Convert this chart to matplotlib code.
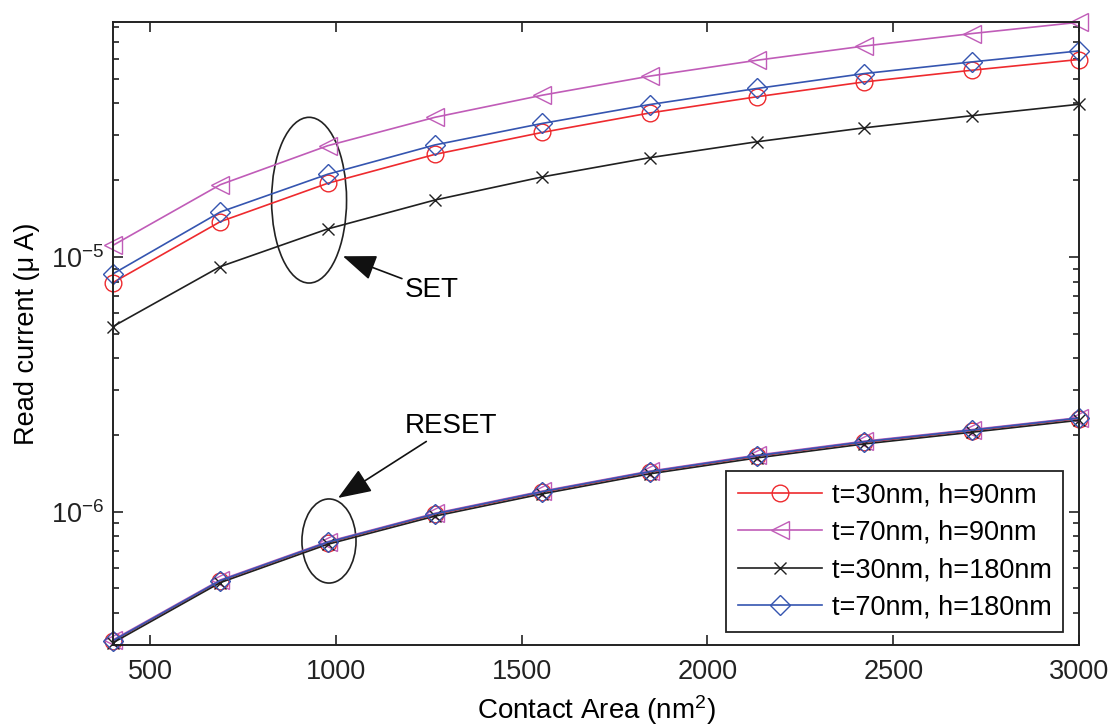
import matplotlib
matplotlib.use("Agg")
import matplotlib.pyplot as plt
from matplotlib.patches import Ellipse
from matplotlib.ticker import LogLocator, NullFormatter
import numpy as np

plt.rcParams['font.family'] = ['Liberation Sans', 'DejaVu Sans']
plt.rcParams['mathtext.fontset'] = 'custom'
plt.rcParams['mathtext.rm'] = 'Liberation Sans'
plt.rcParams['mathtext.it'] = 'Liberation Sans:italic'
plt.rcParams['mathtext.bf'] = 'Liberation Sans:bold'

# Contact area (nm^2)
area = np.linspace(400, 3000, 10)

# Read current, SET state
set_t30_h90 = [7.93e-6, 1.375e-5, 1.944e-5, 2.525e-5, 3.08e-5, 3.67e-5, 4.25e-5, 4.86e-5, 5.40e-5, 5.95e-5]
set_t70_h90 = [1.11e-5, 1.92e-5, 2.73e-5, 3.53e-5, 4.31e-5, 5.12e-5, 5.91e-5, 6.72e-5, 7.52e-5, 8.33e-5]
set_t30_h180 = [5.33e-6, 9.16e-6, 1.287e-5, 1.672e-5, 2.06e-5, 2.45e-5, 2.83e-5, 3.21e-5, 3.58e-5, 3.97e-5]
set_t70_h180 = [8.58e-6, 1.50e-5, 2.11e-5, 2.75e-5, 3.34e-5, 3.96e-5, 4.58e-5, 5.24e-5, 5.82e-5, 6.43e-5]

# Read current, RESET state
reset_t30_h90 = [3.11e-7, 5.35e-7, 7.56e-7, 9.76e-7, 1.193e-6, 1.429e-6, 1.651e-6, 1.873e-6, 2.08e-6, 2.32e-6]
reset_t70_h90 = [3.14e-7, 5.40e-7, 7.63e-7, 9.86e-7, 1.205e-6, 1.443e-6, 1.668e-6, 1.892e-6, 2.10e-6, 2.34e-6]
reset_t30_h180 = [3.06e-7, 5.27e-7, 7.45e-7, 9.61e-7, 1.175e-6, 1.408e-6, 1.626e-6, 1.845e-6, 2.05e-6, 2.285e-6]
reset_t70_h180 = [3.12e-7, 5.37e-7, 7.59e-7, 9.81e-7, 1.199e-6, 1.436e-6, 1.659e-6, 1.882e-6, 2.09e-6, 2.33e-6]

labels = ["t=30nm, h=90nm", "t=70nm, h=90nm", "t=30nm, h=180nm", "t=70nm, h=180nm"]

red = '#ee2a2e'
mag = '#c05cb8'
blk = '#202020'
blu = '#3555b0'

fig = plt.figure(figsize=(11.12, 7.26), dpi=100)
ax = fig.add_axes([0.1016, 0.1116, 0.8687, 0.8581])

styles = [
    dict(color=red, marker='o', ms=12),
    dict(color=mag, marker='<', ms=13),
    dict(color=blk, marker='x', ms=9),
    dict(color=blu, marker='D', ms=10),
]
set_curves = [set_t30_h90, set_t70_h90, set_t30_h180, set_t70_h180]
reset_curves = [reset_t30_h90, reset_t70_h90, reset_t30_h180, reset_t70_h180]

for st, lab, ys, yr in zip(styles, labels, set_curves, reset_curves):
    kw = dict(color=st['color'], marker=st['marker'], markersize=st['ms'],
              markerfacecolor='none', markeredgewidth=1.0, linewidth=1.2,
              clip_on=False)
    ax.plot(area, ys, label=lab, **kw)
    ax.plot(area, yr, **kw)

ax.set_yscale('log')
ax.set_xlim(400, 3000)
ax.set_ylim(3.0e-7, 8.35e-5)
ax.set_xticks([500, 1000, 1500, 2000, 2500, 3000])
ax.yaxis.set_major_locator(LogLocator(base=10))
ax.yaxis.set_minor_locator(LogLocator(base=10, subs=np.arange(2, 10)))
ax.yaxis.set_minor_formatter(NullFormatter())

ax.tick_params(which='both', direction='in', top=True, right=True, labelsize=19.5, width=1.2, colors='#222222')
ax.tick_params(which='major', length=7.5)
ax.tick_params(which='minor', length=4)
ax.tick_params(axis='x', pad=10)
ax.tick_params(axis='y', pad=6)
for sp in ax.spines.values():
    sp.set_linewidth(1.4)
    sp.set_color('#222222')

ax.set_xlabel("Contact Area (nm$^2$)", fontsize=20, labelpad=6)
ax.set_ylabel("Read current (\u03bc A)", fontsize=19.5, labelpad=8)

# SET group
ax.add_patch(Ellipse((0.203, 0.714), 0.0776, 0.266, transform=ax.transAxes,
                     fill=False, edgecolor='#222222', linewidth=1.2))
ax.annotate("SET", xy=(0.238, 0.624), xytext=(0.302, 0.570),
            xycoords='axes fraction', textcoords='axes fraction',
            fontsize=20, va='center', ha='left',
            arrowprops=dict(arrowstyle='-|>,head_length=1.3,head_width=0.5',
                            mutation_scale=16, color='#111111', lw=1.2,
                            shrinkA=0, shrinkB=0))

# RESET group
ax.add_patch(Ellipse((0.2236, 0.1669), 0.056, 0.135, transform=ax.transAxes,
                     fill=False, edgecolor='#222222', linewidth=1.2))
ax.annotate("RESET", xy=(0.233, 0.236), xytext=(0.302, 0.352),
            xycoords='axes fraction', textcoords='axes fraction',
            fontsize=20, va='center', ha='left',
            arrowprops=dict(arrowstyle='-|>,head_length=1.3,head_width=0.5',
                            mutation_scale=16, color='#111111', lw=1.2,
                            shrinkA=0, shrinkB=0))

leg = ax.legend(loc='lower right', bbox_to_anchor=(0.9834, 0.0209), borderaxespad=0,
                fontsize=19.5, fancybox=False, framealpha=1, edgecolor='#222222',
                handlelength=3.1, handletextpad=0.37, labelspacing=0.42,
                borderpad=0.42)
leg.get_frame().set_linewidth(1.3)

fig.savefig("out.png", dpi=100)
